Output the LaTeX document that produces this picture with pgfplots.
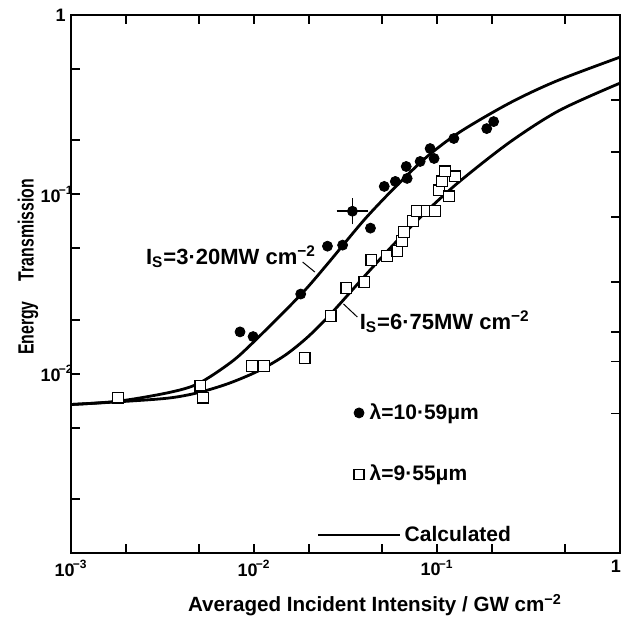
\documentclass[border=0pt]{standalone}
\usepackage{fontspec}
\setmainfont{Liberation Sans}
\usepackage{pgfplots}
\pgfplotsset{compat=1.18}

% 1 px of the reference = 0.5 pt
\newcommand{\dec}[1]{10\kern-0.9pt\textsuperscript{−#1}}
\begin{document}
\begin{tikzpicture}
\begin{axis}[
  at={(0pt,0pt)}, anchor=south west,
  scale only axis,
  width=274.5pt, height=269pt,
  xmode=log, ymode=log,
  xmin=1e-3, xmax=1, ymin=1e-3, ymax=1,
  axis line style={line width=1.2pt},
  tick style={line width=0.9pt, black},
  major tick length=4.5pt, minor tick length=4.5pt,
  tick align=inside,
  xtick pos=both, ytick pos=left,
  xtick={1e-3,1e-2,1e-1,1},
  xticklabels={\dec{3},\dec{2},\dec{1},\hspace*{-4pt}1},
  minor xtick={2e-3,5e-3,2e-2,5e-2,0.2,0.5},
  ytick={1e-2,1e-1,1},
  yticklabels={\dec{2},\dec{1},1\hspace*{4pt}},
  minor ytick={2e-3,5e-3,2e-2,5e-2,0.2,0.5},
  ticklabel style={font=\bfseries\fontsize{9}{9}\selectfont},
  yticklabel style={inner sep=0.5pt, xshift=2pt},
  legend style={at={(0.448,0.286)}, anchor=north west, draw=none, fill=none,
    row sep=17.25pt, inner sep=0pt,
    font=\bfseries\fontsize{10.5}{11}\selectfont},
  legend cell align=left,
]
% calculated, I_S = 3.20 MW cm^-2
\addplot[black, line width=1.4pt, smooth, forget plot] coordinates {
  (0.001,0.00673) (0.001824,0.00703) (0.00341,0.00784) (0.00496,0.0088)
  (0.0075,0.01159) (0.01,0.0151) (0.018,0.02754) (0.02523,0.04095)
  (0.0401,0.07226) (0.0606,0.1126) (0.0882,0.1622) (0.1334,0.2227)
  (0.2492,0.3228) (0.449,0.4281) (1,0.5821)
};
% calculated, I_S = 6.75 MW cm^-2
\addplot[black, line width=1.4pt, smooth, forget plot] coordinates {
  (0.001,0.00673) (0.001824,0.00697) (0.00341,0.00731) (0.00496,0.00784)
  (0.00722,0.0088) (0.01052,0.01034) (0.01474,0.01264) (0.01965,0.016)
  (0.0262,0.02146) (0.0417,0.03645) (0.0606,0.05516) (0.0882,0.08094)
  (0.1334,0.1184) (0.2492,0.195) (0.4661,0.2936) (1,0.4169)
};
% lambda = 10.59 um
\addplot[only marks, mark=*, mark size=2.5pt, black, forget plot] coordinates {
  (0.00839,0.0171) (0.00989,0.0161) (0.0180,0.0278) (0.0252,0.0514)
  (0.0305,0.0521) (0.0433,0.0648) (0.0515,0.1107) (0.0592,0.118)
  (0.0687,0.1227) (0.0679,0.143) (0.0809,0.1525) (0.0917,0.180)
  (0.0964,0.1585) (0.1236,0.2048) (0.187,0.2326) (0.204,0.2545)
};
\addplot[only marks, mark=*, mark size=2.5pt, black, forget plot,
  error bars/.cd, x dir=both, x explicit, y dir=both, y explicit,
  error bar style={line width=0.8pt}, error mark options={line width=0.8pt, mark size=2pt}]
  coordinates {(0.0345,0.0805) += (0.0056,0.0098) -= (0.0048,0.0088)};
% lambda = 9.55 um
\addplot[only marks, mark=square*, mark size=2.7pt, mark options={line width=0.6pt, fill=white, draw=black}, forget plot] coordinates {
  (0.0018,0.00736) (0.00509,0.00858) (0.00528,0.00736) (0.00976,0.01107)
  (0.0113,0.01107) (0.0189,0.01227) (0.0262,0.0210) (0.0320,0.0300)
  (0.0401,0.0324) (0.0438,0.0430) (0.0535,0.0453) (0.0607,0.0482)
  (0.0646,0.0548) (0.0662,0.0615) (0.0741,0.0708) (0.0779,0.0805)
  (0.0883,0.0805) (0.0975,0.0805) (0.1026,0.1053) (0.1162,0.0975)
  (0.1064,0.118) (0.1253,0.1259) (0.1104,0.1342)
};

\addlegendimage{legend image code/.code={\path[draw=none] (0pt,0pt) -- (41pt,0pt); \fill[black] (20.5pt,0pt) circle (2.5pt);}}
\addlegendentry{\hspace*{-17.5pt}λ=10·59μm}
\addlegendimage{legend image code/.code={\path[draw=none] (0pt,0pt) -- (41pt,0pt); \draw[line width=0.6pt, fill=white] (18pt,-2.5pt) rectangle (23pt,2.5pt);}}
\addlegendentry{\hspace*{-17.5pt}λ=9·55μm}
\addlegendimage{legend image code/.code={\draw[line width=0.7pt] (0pt,0pt) -- (41pt,0pt);}}
\addlegendentry{Calculated}

\node[anchor=west, font=\bfseries\fontsize{11}{11}\selectfont, inner sep=0pt]
  at (axis cs:0.00256,0.0447) {I\textsubscript{S}=3·20MW cm\textsuperscript{−2}};
\draw[line width=0.5pt] (axis cs:0.01845,0.0419) -- (axis cs:0.0215,0.0369);
\node[anchor=west, font=\bfseries\fontsize{11}{11}\selectfont, inner sep=0pt]
  at (axis cs:0.0377,0.01945) {I\textsubscript{S}=6·75MW cm\textsuperscript{−2}};
\draw[line width=0.5pt] (axis cs:0.0308,0.0245) -- (axis cs:0.0367,0.0207);
\end{axis}

% right-hand ticks
\begin{axis}[
  at={(0pt,0pt)}, anchor=south west,
  scale only axis,
  width=274.5pt, height=269pt,
  xmode=log, ymode=log,
  xmin=1e-3, xmax=1, ymin=1e-3, ymax=1,
  axis line style={line width=1.2pt},
  tick style={line width=0.9pt, black},
  major tick length=4.5pt, tick align=inside,
  xtick=\empty, ytick pos=right,
  ytick={0.006,0.0117,0.0171,0.0324,0.0745,0.173,0.337},
  yticklabels={}, minor ytick={},
]
\end{axis}

\node[rotate=90, font=\bfseries\fontsize{11}{11}\selectfont] at (-21.5pt,143pt)
  {\scalebox{0.72}[1]{Energy\hspace{14pt}Transmission}};
\node[font=\bfseries\fontsize{10.3}{11}\selectfont] at (152pt,-26pt)
  {Averaged Incident Intensity / GW cm\textsuperscript{−2}};

\pgfresetboundingbox
\path (-35.5pt,-34pt) rectangle (275pt,276.5pt);
\end{tikzpicture}
\end{document}
